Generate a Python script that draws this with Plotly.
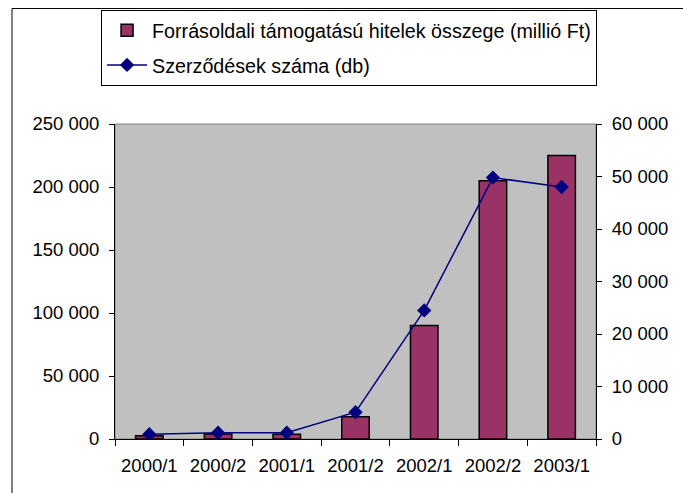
import plotly.graph_objects as go

# data
periods = ["2000/1", "2000/2", "2001/1", "2001/2", "2002/1", "2002/2", "2003/1"]
loan_total = [2500, 4000, 3700, 17700, 90000, 205000, 225000]   # millió Ft
contracts = [900, 1200, 1200, 5100, 24500, 49800, 48000]        # db

PLUM = "#993366"
NAVY = "#000080"
PLOT_BG = "#c0c0c0"
INK = "#000000"
FONT = "Liberation Sans, Arial, sans-serif"

fig = go.Figure()
fig.add_trace(go.Bar(
    x=periods, y=loan_total,
    name="Forrásoldali támogatású hitelek összege (millió Ft)",
    legendgroup="a",
    marker=dict(color=PLUM, line=dict(color=INK, width=1.5)),
))
fig.add_trace(go.Scatter(
    x=periods, y=contracts, yaxis="y2", mode="lines+markers",
    name="Szerződések száma (db)",
    legendgroup="b",
    line=dict(color=NAVY, width=1.5),
    marker=dict(symbol="diamond", size=11, color=NAVY),
))

# page body has an 8px margin, so the figure is sized to fit inside it
fig.update_layout(
    width=683, height=485,
    font=dict(family=FONT, size=18.5, color=INK),
    paper_bgcolor="white", plot_bgcolor=PLOT_BG,
    margin=dict(l=107, r=95, t=116, b=54, autoexpand=False),
    separators=", ",
    bargap=0.6,
    showlegend=True,
    legend=dict(x=-0.029, y=1.362, xanchor="left", yanchor="top",
                bgcolor="white", bordercolor=INK, borderwidth=1,
                font=dict(size=19.7), itemwidth=40,
                traceorder="grouped", tracegroupgap=6),
    xaxis=dict(showgrid=False, zeroline=False, showline=True, linecolor=INK,
               linewidth=1, ticks="outside", ticklen=6, tickcolor=INK,
               tickson="boundaries", ticklabelstandoff=10),
    yaxis=dict(range=[0, 250000], dtick=50000, tickformat=",",
               showgrid=False, zeroline=False, showline=True, linecolor=INK,
               ticks="outside", ticklen=5, tickcolor=INK,
               ticklabelstandoff=6),
    yaxis2=dict(range=[0, 60000], dtick=10000, tickformat=",",
                overlaying="y", side="right",
                showgrid=False, zeroline=False, showline=True, linecolor=INK,
                ticks="outside", ticklen=5, tickcolor=INK,
                ticklabelstandoff=6),
    shapes=[
        # outer chart border
        dict(type="rect", xref="paper", yref="paper",
             x0=-0.2141, x1=1.187, y0=-0.3, y1=1.3667,
             line=dict(color=INK, width=1), layer="below"),
        # plot-area border
        dict(type="rect", xref="paper", yref="paper",
             x0=0, x1=1, y0=0, y1=1,
             line=dict(color="#808080", width=1), layer="below"),
    ],
)

fig.write_html("out.html")
